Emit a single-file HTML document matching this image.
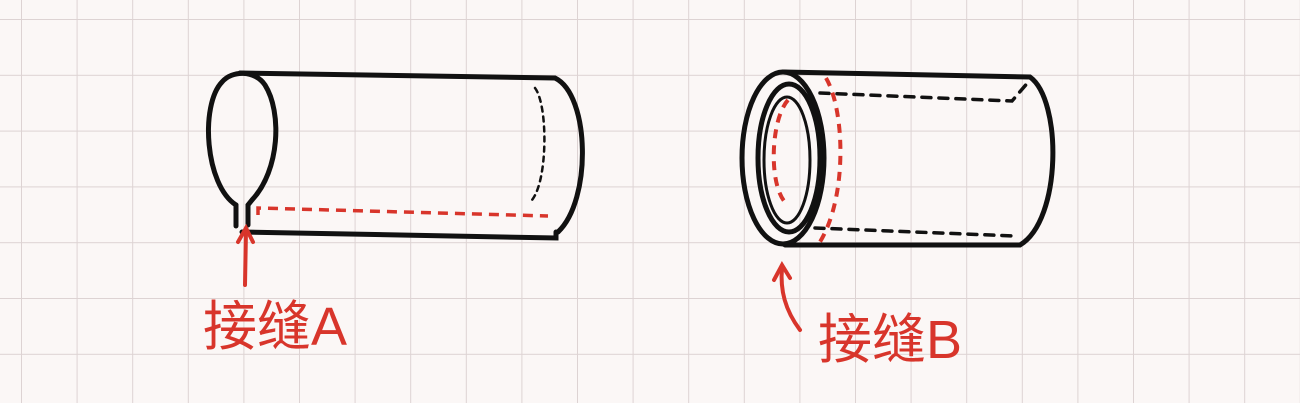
<!DOCTYPE html>
<html><head><meta charset="utf-8"><style>
html,body{margin:0;padding:0;background:#fbf7f6;}
svg{display:block}
</style></head><body>
<svg width="1300" height="403" viewBox="0 0 1300 403">
<defs>
<pattern id="grid" width="55.6" height="55.8" patternUnits="userSpaceOnUse" x="21" y="19">
<path d="M0 0 H55.6 M0 0 V55.8" stroke="#ddd3d3" stroke-width="2" fill="none"/>
</pattern>
</defs>
<rect width="1300" height="403" fill="#fbf7f6"/>
<rect width="1300" height="403" fill="url(#grid)"/>

<g fill="none" stroke="#111" stroke-width="5" stroke-linecap="round">
<path d="M236 205 C205 185 200 105 222 82 C232 70 255 70 265 85 C282 112 280 170 252 200 L248 205 L248 225" />
<path d="M236 205 L236 226"/>
<path d="M240 73 L555 78 C590 95 592 200 558 232"/>
<path d="M242 232 L556 238 L556 232"/>
<path d="M535 88 C548 105 548 180 532 200" stroke-width="2.5" stroke-dasharray="5 5"/>
</g>
<g fill="none" stroke="#d8352b" stroke-width="3.5" stroke-dasharray="10 7">
<path d="M258 215 L258 208 L548 216"/>
</g>
<g fill="none" stroke="#d8352b" stroke-width="4" stroke-linecap="round">
<path d="M245 285 L246 230"/>
<path d="M238 242 L246 228 L253 242"/>
</g>
<text x="203" y="345" font-family="'Liberation Sans','Noto Sans CJK SC',sans-serif" font-size="54" fill="#d8352b">接缝A</text>

<g fill="none" stroke="#111" stroke-width="5" stroke-linecap="round">
<ellipse cx="783" cy="158" rx="41" ry="86"/>
<ellipse cx="789" cy="158" rx="31" ry="74"/>
<ellipse cx="787" cy="160" rx="23" ry="63" stroke-width="3"/>
<path d="M783 72 L1030 77 C1062 100 1062 220 1020 245 L785 245"/>
<path d="M820 93 L1012 101 L1030 80" stroke-width="3.5" stroke-dasharray="9 8"/>
<path d="M815 228 L1015 236" stroke-width="3.5" stroke-dasharray="9 8"/>
</g>
<g fill="none" stroke="#d8352b" stroke-width="4" stroke-dasharray="9 7">
<path d="M788 100 C770 120 768 190 788 205"/>
<path d="M826 78 C845 110 848 200 818 245"/>
</g>
<g fill="none" stroke="#d8352b" stroke-width="4" stroke-linecap="round">
<path d="M800 330 C785 310 780 290 782 268"/>
<path d="M774 280 L782 265 L790 278"/>
</g>
<text x="818" y="358" font-family="'Liberation Sans','Noto Sans CJK SC',sans-serif" font-size="54" fill="#d8352b">接缝B</text>
</svg>
</body></html>
